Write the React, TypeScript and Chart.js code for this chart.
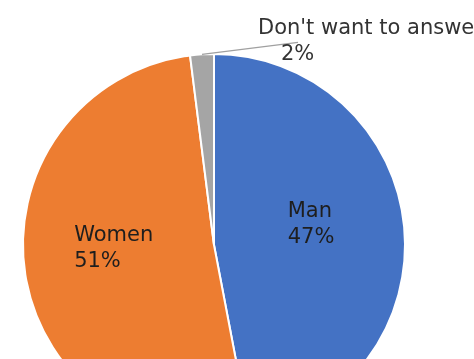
import React, { useEffect, useRef } from "react";
import { Chart, registerables } from "chart.js";

Chart.register(...registerables);

const categories = ["Man", "Women", "Don't want to answer"];
const values = [47, 51, 2];
const valueLabels = ["47%", "51%", "2%"];
const colors = ["#4472C4", "#ED7D31", "#A5A5A5"];

const FONT = "21px 'DejaVu Sans', sans-serif";

const labelPlugin = {
  id: "pieLabels",
  afterDatasetsDraw(chart: any) {
    const ctx = chart.ctx as CanvasRenderingContext2D;
    const meta = chart.getDatasetMeta(0);
    const nudgeX = [2, -6];
    ctx.save();
    ctx.font = FONT;
    ctx.textBaseline = "middle";
    meta.data.forEach((arc: any, i: number) => {
      const { x, y, startAngle, endAngle, outerRadius } = arc.getProps(
        ["x", "y", "startAngle", "endAngle", "outerRadius"],
        true
      );
      const mid = (startAngle + endAngle) / 2;
      const lines = [categories[i], valueLabels[i]];
      if (i < 2) {
        const px = x + Math.cos(mid) * outerRadius * 0.5 + nudgeX[i];
        const py = y + Math.sin(mid) * outerRadius * 0.5 - 11;
        const w = Math.max(...lines.map((l) => ctx.measureText(l).width));
        const left = px - w / 2;
        ctx.fillStyle = "#1e1e1e";
        ctx.textAlign = "left";
        ctx.fillText(lines[0], left, py - 13);
        ctx.fillText(lines[1], left, py + 13);
      } else {
        const ex = x + Math.cos(mid) * outerRadius;
        const ey = y + Math.sin(mid) * outerRadius;
        const lx = ex + 96;
        const ly = ey - 12;
        ctx.strokeStyle = "#A0A0A0";
        ctx.lineWidth = 1.5;
        ctx.beginPath();
        ctx.moveTo(ex, ey);
        ctx.lineTo(lx, ly);
        ctx.stroke();
        ctx.fillStyle = "#333333";
        ctx.textAlign = "left";
        ctx.fillText(lines[0], lx - 40, ly - 14);
        ctx.fillText(lines[1], lx - 17, ly + 12);
      }
    });
    ctx.restore();
  },
};

export default function App() {
  const ref = useRef<HTMLCanvasElement | null>(null);
  useEffect(() => {
    if (!ref.current) return;
    const chart = new Chart(ref.current, {
      type: "pie",
      data: {
        labels: categories,
        datasets: [
          {
            data: values,
            backgroundColor: colors,
            borderColor: "#ffffff",
            borderWidth: 2,
          },
        ],
      },
      options: {
        responsive: false,
        animation: false,
        layout: { padding: { left: 22, right: 68, top: 53, bottom: 83 } },
        plugins: {
          legend: { display: false },
          tooltip: { enabled: false },
        },
      },
      plugins: [labelPlugin],
    });
    return () => chart.destroy();
  }, []);
  return (
    <div
      style={{
        position: "fixed",
        left: 0,
        top: 0,
        width: 474,
        height: 359,
        overflow: "hidden",
        background: "#ffffff",
      }}
    >
      <canvas ref={ref} width={474} height={520} style={{ display: "block" }} />
    </div>
  );
}
